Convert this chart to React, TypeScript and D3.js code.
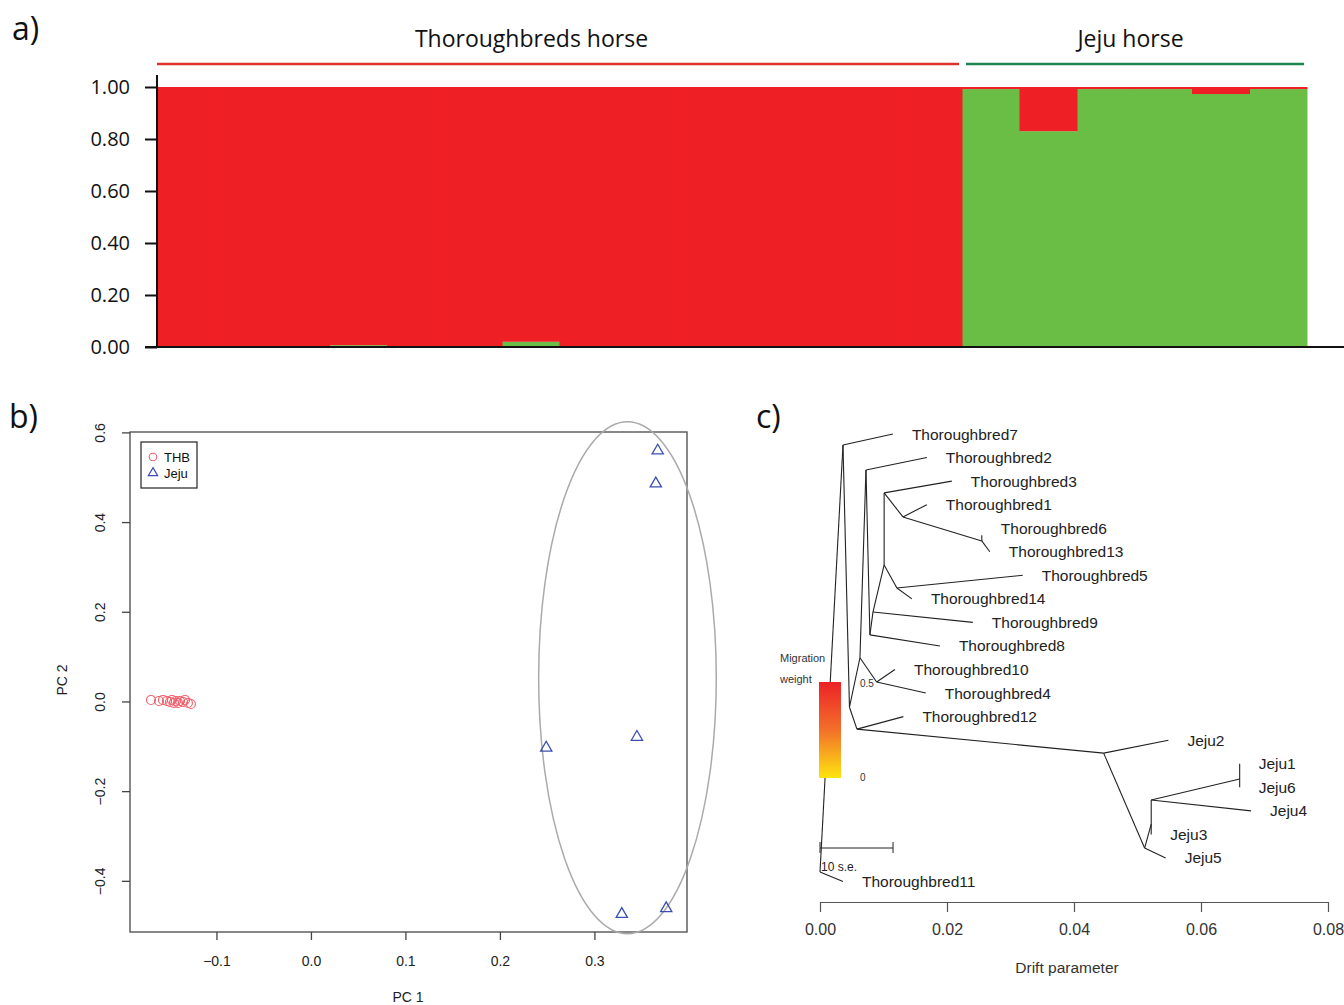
import React, { useRef, useEffect } from 'react';
import * as d3 from 'd3';

// panel a: ancestry proportions (K=2), green = Jeju cluster, red = Thoroughbred cluster
const groupNames = ['Thoroughbreds horse', 'Jeju horse'];
const groupSizes = [14, 6];
const greenShare = [0, 0, 0, 0.007, 0, 0, 0.02, 0, 0, 0, 0, 0, 0, 0,
  0.992, 0.83, 0.992, 0.992, 0.973, 0.992];
const aTicks = [0, 0.2, 0.4, 0.6, 0.8, 1.0];

// panel b: PCA
const thbPC1 = [-0.1693, -0.1608, -0.1566, -0.1524, -0.1492, -0.1471, -0.145, -0.1429, -0.1407, -0.1386, -0.1354, -0.1333, -0.1302, -0.127];
const thbPC2 = [0.0045, 0.0022, 0.0045, 0.0022, 0, 0.0045, -0.0022, 0.0022, -0.0022, 0.0022, 0, 0.0045, -0.0022, -0.0045];
const jejuPC1 = [0.367, 0.365, 0.249, 0.345, 0.329, 0.376];
const jejuPC2 = [0.5625, 0.489, -0.1, -0.076, -0.471, -0.458];
const pc1Ticks = [-0.1, 0, 0.1, 0.2, 0.3];
const pc2Ticks = [-0.4, -0.2, 0, 0.2, 0.4, 0.6];
const jejuEllipse = [0.335, 0.054, 0.094, 0.571]; // cx, cy, rx, ry in PC units

// panel c: TreeMix tree
const treeIds = ['root', 'n1', 'Thoroughbred7', 'n2', 'n3', 'n4', 'Thoroughbred2', 'n5', 'Thoroughbred8',
  'n6', 'Thoroughbred9', 'n7', 'n8', 'Thoroughbred3', 'n9', 'Thoroughbred1', 'n10', 'Thoroughbred6',
  'Thoroughbred13', 'n11', 'Thoroughbred5', 'Thoroughbred14', 'n12', 'Thoroughbred10', 'Thoroughbred4',
  'n13', 'Thoroughbred12', 'n14', 'Jeju2', 'n15', 'Jeju5', 'n16', 'Jeju3', 'n17', 'n18', 'Jeju1', 'Jeju6',
  'Jeju4', 'Thoroughbred11'];
const treeParents = ['', 'root', 'n1', 'n1', 'n2', 'n3', 'n4', 'n4', 'n5',
  'n5', 'n6', 'n6', 'n7', 'n8', 'n8', 'n9', 'n9', 'n10',
  'n10', 'n7', 'n11', 'n11', 'n3', 'n12', 'n12',
  'n2', 'n13', 'n13', 'n14', 'n14', 'n15', 'n15', 'n16', 'n16', 'n17', 'n18', 'n18',
  'n17', 'root'];
const treeDrift = [0, 0.00362, 0.01148, 0.00464, 0.00629, 0.00724, 0.01683, 0.00786, 0.01888,
  0.00834, 0.02407, 0.0101, 0.0101, 0.02076, 0.01306, 0.01683, 0.02548, 0.02548,
  0.02674, 0.01211, 0.03193, 0.01447, 0.00892, 0.0118, 0.01666,
  0.00582, 0.01313, 0.04467, 0.05487, 0.05112, 0.05443, 0.05216, 0.05216, 0.05216, 0.06609, 0.06609, 0.06609,
  0.06788, 0.00362];
const treeRow = [18.6, 0.47, 0, 11.6, 9.5, 1.53, 1, 8.53, 9,
  7.56, 8, 5.56, 2.5, 2, 3.52, 3, 4.54, 4.3,
  5, 6.54, 6, 7, 10.53, 10, 11,
  12.53, 12, 13.55, 13, 17.58, 18, 16.56, 17, 15.54, 14.65, 14, 15,
  16, 19];
const driftTicks = [0, 0.02, 0.04, 0.06, 0.08];
const scaleBarDrift = 0.0115;

const W = 1344;
const H = 1005;
const RED = '#ee1f25';
const GREEN = '#6abd45';
const SANS = "'Open Sans', sans-serif";
const ARIAL = "'Liberation Sans', Arial, sans-serif";

const App = () => {
  const svgRef = useRef<SVGSVGElement>(null);

  useEffect(() => {
    const svg = d3.select(svgRef.current);
    svg.selectAll('*').remove();
    svg.attr('width', W).attr('height', H).style('background', 'white');

    // ---------- a) ----------
    const a = svg.append('g');
    const idx = greenShare.map((_, i) => i);
    const xA = d3.scaleBand<number>().domain(idx).range([157, 1307]).padding(0);
    const yA = d3.scaleLinear().domain([0, 1]).range([347, 87]);

    const stacked = greenShare.map(g => ({ green: g, red: 1 - g }));
    const series = d3.stack<any>().keys(['green', 'red'])(stacked);
    a.selectAll('.layer')
      .data(series)
      .enter()
      .append('g')
      .attr('fill', d => (d.key === 'green' ? GREEN : RED))
      .selectAll('rect')
      .data(d => d)
      .enter()
      .append('rect')
      .attr('x', (d, i) => xA(i)!)
      .attr('width', xA.bandwidth() + 0.5)
      .attr('y', d => yA(d[1]))
      .attr('height', d => yA(d[0]) - yA(d[1]));

    const yAxisA = d3.axisLeft(yA).tickValues(aTicks).tickFormat(d3.format('.2f')).tickSize(12).tickPadding(15);
    const ga = a.append('g').attr('transform', 'translate(157,0)').call(yAxisA);
    ga.select('.domain').remove();
    ga.selectAll('line').attr('stroke', '#111').attr('stroke-width', 2);
    ga.selectAll('text').style('font-family', SANS).style('font-size', '20px').attr('fill', '#111');
    a.append('line').attr('x1', 157).attr('x2', 157).attr('y1', 75).attr('y2', 348)
      .attr('stroke', '#111').attr('stroke-width', 2);
    a.append('line').attr('x1', 145).attr('x2', W).attr('y1', 347).attr('y2', 347)
      .attr('stroke', '#111').attr('stroke-width', 2);

    // group headers (titles sit a little left of the bracket centre, as in the figure)
    const titleShift = [-28, -4];
    let start = 0;
    groupNames.forEach((name, gi) => {
      const n = groupSizes[gi];
      const x0 = xA(start)!;
      const x1 = xA(start + n - 1)! + xA.bandwidth();
      a.append('line')
        .attr('x1', x0 + (gi === 0 ? 0 : 4)).attr('x2', x1 - 3)
        .attr('y1', 64).attr('y2', 64)
        .attr('stroke', gi === 0 ? '#e0312f' : '#1d8350').attr('stroke-width', 2.5);
      a.append('text')
        .attr('x', (x0 + x1) / 2 + titleShift[gi]).attr('y', 47)
        .attr('text-anchor', 'middle')
        .style('font-family', SANS).style('font-size', '23px').attr('fill', '#111')
        .text(name);
      start += n;
    });

    // panel letters
    const letters: [string, number, number][] = [['a)', 12, 40], ['b)', 9, 428], ['c)', 756, 428]];
    letters.forEach(([t, x, y]) => {
      svg.append('text').attr('x', x).attr('y', y)
        .style('font-family', SANS).style('font-size', '32px').attr('fill', '#111').text(t);
    });

    // ---------- b) ----------
    const b = svg.append('g');
    const xB = d3.scaleLinear().domain([-0.1915, 0.398]).range([130, 687]);
    const yB = d3.scaleLinear().domain([-0.513, 0.602]).range([932, 432]);

    b.append('rect').attr('x', 130).attr('y', 432).attr('width', 557).attr('height', 500)
      .attr('fill', 'none').attr('stroke', '#555').attr('stroke-width', 1.4);

    const xAxisB = d3.axisBottom(xB).tickValues(pc1Ticks).tickFormat(d3.format('.1f')).tickSize(8).tickPadding(16);
    const gbx = b.append('g').attr('transform', 'translate(0,932)').call(xAxisB);
    gbx.select('.domain').remove();
    gbx.selectAll('line').attr('stroke', '#444').attr('stroke-width', 1.3);
    gbx.selectAll('text').style('font-family', ARIAL).style('font-size', '14px').attr('fill', '#222');

    b.selectAll('.ytick')
      .data(pc2Ticks)
      .enter()
      .append('line')
      .attr('x1', 122).attr('x2', 130)
      .attr('y1', d => yB(d)).attr('y2', d => yB(d))
      .attr('stroke', '#444').attr('stroke-width', 1.3);
    b.selectAll('.ylab')
      .data(pc2Ticks)
      .enter()
      .append('text')
      .attr('transform', d => `translate(105,${yB(d)}) rotate(-90)`)
      .attr('text-anchor', 'middle')
      .style('font-family', ARIAL).style('font-size', '14px').attr('fill', '#222')
      .text(d => d3.format('.1f')(d));

    b.append('text').attr('x', 408).attr('y', 1002).attr('text-anchor', 'middle')
      .style('font-family', ARIAL).style('font-size', '14px').attr('fill', '#222').text('PC 1');
    b.append('text').attr('transform', `translate(67,${(432 + 932) / 2 - 2}) rotate(-90)`).attr('text-anchor', 'middle')
      .style('font-family', ARIAL).style('font-size', '14px').attr('fill', '#222').text('PC 2');

    // ellipse around Jeju
    const [ecx, ecy, erx, ery] = jejuEllipse;
    b.append('ellipse')
      .attr('cx', xB(ecx)).attr('cy', yB(ecy))
      .attr('rx', xB(ecx + erx) - xB(ecx)).attr('ry', yB(ecy) - yB(ecy + ery))
      .attr('fill', 'none').attr('stroke', '#aaa').attr('stroke-width', 1.5);

    const tri = d3.symbol().type(d3.symbolTriangle).size(55);
    b.selectAll('.thb')
      .data(thbPC1)
      .enter()
      .append('circle')
      .attr('cx', d => xB(d)).attr('cy', (d, i) => yB(thbPC2[i]))
      .attr('r', 4.5)
      .attr('fill', 'none').attr('stroke', '#f0606c').attr('stroke-width', 1.1);
    b.selectAll('.jeju')
      .data(jejuPC1)
      .enter()
      .append('path')
      .attr('d', tri)
      .attr('transform', (d, i) => `translate(${xB(d)},${yB(jejuPC2[i]) + 1})`)
      .attr('fill', 'none').attr('stroke', '#3b4fb3').attr('stroke-width', 1.3);

    // legend
    const lg = b.append('g');
    lg.append('rect').attr('x', 141).attr('y', 442).attr('width', 56).attr('height', 46)
      .attr('fill', 'white').attr('stroke', '#333').attr('stroke-width', 1.3);
    lg.append('circle').attr('cx', 153).attr('cy', 457).attr('r', 3.8)
      .attr('fill', 'none').attr('stroke', '#f0606c').attr('stroke-width', 1.1);
    lg.append('path').attr('d', d3.symbol().type(d3.symbolTriangle).size(38))
      .attr('transform', 'translate(153,473)')
      .attr('fill', 'none').attr('stroke', '#3b4fb3').attr('stroke-width', 1.2);
    lg.append('text').attr('x', 164).attr('y', 462).style('font-family', ARIAL).style('font-size', '13px').attr('fill', '#111').text('THB');
    lg.append('text').attr('x', 164).attr('y', 478).style('font-family', ARIAL).style('font-size', '13px').attr('fill', '#111').text('Jeju');

    // ---------- c) ----------
    const c = svg.append('g');
    const xC = d3.scaleLinear().domain([0, 0.08]).range([820, 1328]);
    const yC = d3.scaleLinear().domain([0, 19]).range([434, 881.5]);

    const table = treeIds.map((id, i) => ({ id, parent: treeParents[i] || null, drift: treeDrift[i], row: treeRow[i] }));
    const root = d3.stratify<any>().id(d => d.id).parentId(d => d.parent)(table);

    // colour bar for migration weight
    const defs = svg.append('defs');
    const grad = defs.append('linearGradient').attr('id', 'mig-grad').attr('x1', 0).attr('x2', 0).attr('y1', 0).attr('y2', 1);
    grad.append('stop').attr('offset', '0%').attr('stop-color', '#ec2227');
    grad.append('stop').attr('offset', '50%').attr('stop-color', '#f3702a');
    grad.append('stop').attr('offset', '100%').attr('stop-color', '#fde40f');

    c.selectAll('.edge')
      .data(root.links())
      .enter()
      .append('line')
      .attr('x1', d => xC(d.source.data.drift)).attr('y1', d => yC(d.source.data.row))
      .attr('x2', d => xC(d.target.data.drift)).attr('y2', d => yC(d.target.data.row))
      .attr('stroke', '#222').attr('stroke-width', 1.1);

    c.append('rect').attr('x', 819).attr('y', 682).attr('width', 22).attr('height', 96).attr('fill', 'url(#mig-grad)');
    c.append('text').attr('x', 780).attr('y', 662).style('font-family', ARIAL).style('font-size', '11px').attr('fill', '#333').text('Migration');
    c.append('text').attr('x', 780).attr('y', 683).style('font-family', ARIAL).style('font-size', '11px').attr('fill', '#333').text('weight');
    c.append('text').attr('x', 860).attr('y', 687).style('font-family', ARIAL).style('font-size', '10px').attr('fill', '#333').text('0.5');
    c.append('text').attr('x', 860).attr('y', 781).style('font-family', ARIAL).style('font-size', '10px').attr('fill', '#333').text('0');

    c.selectAll('.leaf')
      .data(root.leaves())
      .enter()
      .append('text')
      .attr('x', d => xC(d.data.drift) + 19)
      .attr('y', d => yC(Math.round(d.data.row)) + 5.5)
      .style('font-family', ARIAL).style('font-size', '15.5px').attr('fill', '#222')
      .text(d => d.data.id);

    // scale bar
    const sbY = 848;
    c.append('line').attr('x1', xC(0)).attr('x2', xC(scaleBarDrift)).attr('y1', sbY).attr('y2', sbY).attr('stroke', '#222');
    [0, scaleBarDrift].forEach(v => {
      c.append('line').attr('x1', xC(v)).attr('x2', xC(v)).attr('y1', sbY - 6).attr('y2', sbY + 5).attr('stroke', '#222');
    });
    c.append('text').attr('x', 821).attr('y', 871).style('font-family', ARIAL).style('font-size', '12px').attr('fill', '#222').text('10 s.e.');

    const xAxisC = d3.axisBottom(xC).tickValues(driftTicks).tickFormat(d3.format('.2f')).tickSize(10).tickPadding(12).tickSizeOuter(0);
    const gcx = c.append('g').attr('transform', 'translate(0,902)').call(xAxisC);
    gcx.select('.domain').attr('stroke', '#555').attr('stroke-width', 1.2);
    gcx.selectAll('line').attr('stroke', '#555').attr('stroke-width', 1.2);
    gcx.selectAll('text').style('font-family', ARIAL).style('font-size', '16px').attr('fill', '#333');
    c.append('text').attr('x', 1067).attr('y', 973).attr('text-anchor', 'middle')
      .style('font-family', ARIAL).style('font-size', '15.5px').attr('fill', '#333').text('Drift parameter');
  }, []);

  return (
    <div style={{ position: 'absolute', left: 0, top: 0 }}>
      <svg ref={svgRef} style={{ display: 'block' }}></svg>
    </div>
  );
};

export default App;
